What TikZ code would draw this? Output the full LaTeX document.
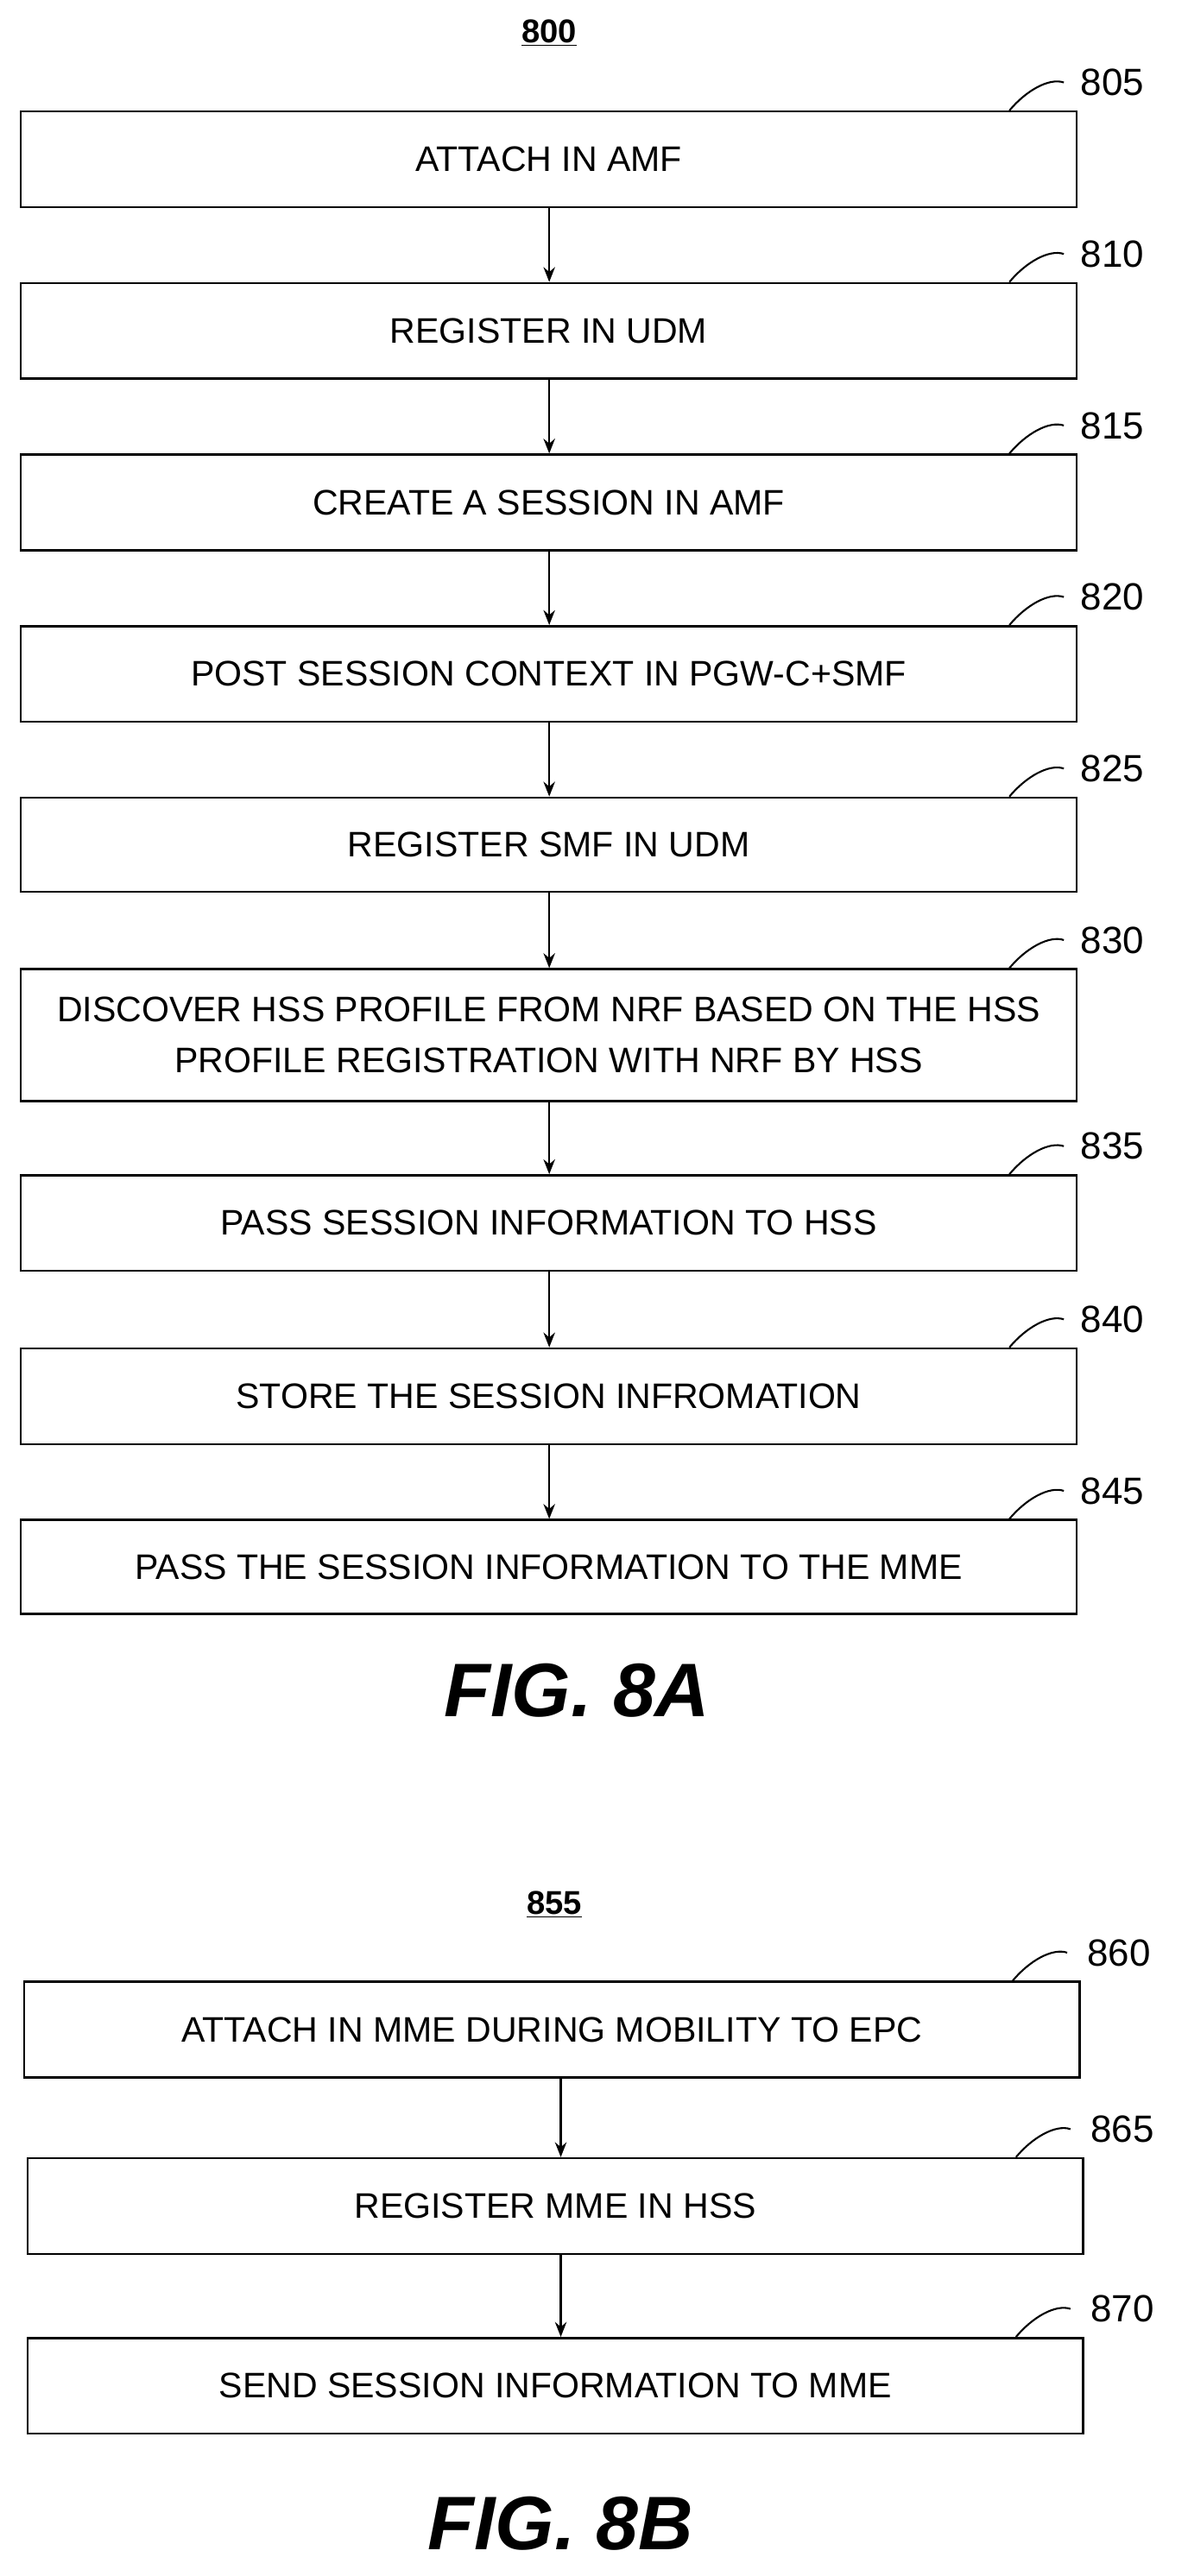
\documentclass[tikz,border=0pt]{standalone}
\usepackage{fontspec}
\setmainfont{Liberation Sans}
\usetikzlibrary{arrows.meta}
\begin{document}
\begin{tikzpicture}[x=1pt,y=-1pt,
 box/.style={draw,line width=1.3pt,minimum width=640pt,align=center,font=\fontsize{21.5}{31}\selectfont,inner sep=0pt},
 arr/.style={-{Stealth[length=9pt,width=7pt]},line width=1.3pt},
 lead/.style={line width=1.1pt},
 num/.style={font=\fontsize{23}{26}\selectfont,anchor=west,inner sep=0pt}]
\useasboundingbox (0,0) rectangle (720,1562);
\node[font=\bfseries\fontsize{20}{24}\selectfont] (t800) at (333,20) {\underline{800}};
% part A
\foreach \n/\y/\h/\t in {805/67/58/ATTACH IN AMF,810/171/58/REGISTER IN UDM,815/275/58/CREATE A SESSION IN AMF,820/379/58/POST SESSION CONTEXT IN PGW-C+SMF,825/483/57/REGISTER SMF IN UDM,830/587/80/{DISCOVER HSS PROFILE FROM NRF BASED ON THE HSS\\PROFILE REGISTRATION WITH NRF BY HSS},835/712/58/PASS SESSION INFORMATION TO HSS,840/817/58/STORE THE SESSION INFROMATION,845/921/57/PASS THE SESSION INFORMATION TO THE MME}{
 \node[box,minimum height=\h pt,anchor=north west] (b\n) at (12,\y) {\t};
 \coordinate (c\n) at (612,\y);
 \node[num] (l\n) at (655,\y-17) {\n};
 \draw[lead] (c\n) .. controls (622,\y-12) and (636,\y-20) .. (645,\y-17);
}
\foreach \a/\b in {805/810,810/815,815/820,820/825,825/830,830/835,835/840,840/845}{
 \draw[arr] (b\a.south -| 333,0) -- (b\b.north -| 333,0);}
\node[font=\bfseries\itshape\fontsize{46}{50}\selectfont] (f8a) at (350,1025) {FIG. 8A};
% part B
\node[font=\bfseries\fontsize{20}{24}\selectfont] (t855) at (336,1155) {\underline{855}};
\foreach \n/\x/\y/\t in {860/14/1201/ATTACH IN MME DURING MOBILITY TO EPC,865/16/1308/REGISTER MME IN HSS,870/16/1417/SEND SESSION INFORMATION TO MME}{
 \node[box,minimum height=58pt,anchor=north west] (b\n) at (\x,\y) {\t};
 \coordinate (c\n) at (\x+600,\y);
 \node[num] (l\n) at (\x+645,\y-17) {\n};
 \draw[lead] (c\n) .. controls (\x+610,\y-12) and (\x+624,\y-20) .. (\x+633,\y-17);
}
\draw[arr] (b860.south -| 340,0) -- (b865.north -| 340,0);
\draw[arr] (b865.south -| 340,0) -- (b870.north -| 340,0);
\node[font=\bfseries\itshape\fontsize{46}{50}\selectfont] (f8b) at (340,1530) {FIG. 8B};
\end{tikzpicture}
\end{document}
